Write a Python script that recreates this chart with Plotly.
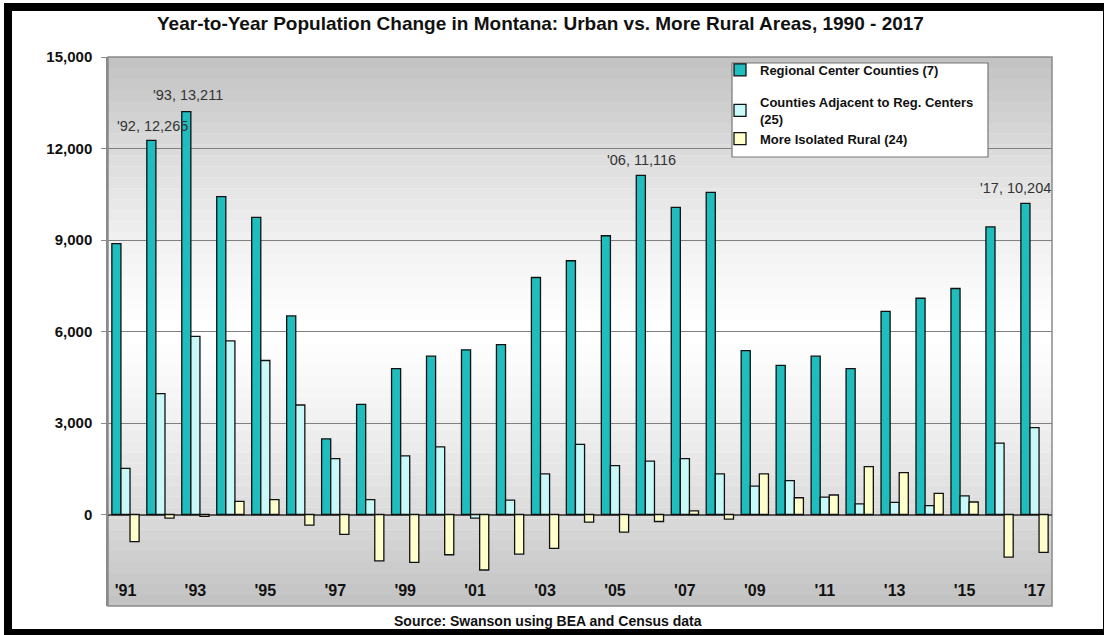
import plotly.graph_objects as go

years = list(range(1991, 2018))
regional = [8880, 12265, 13211, 10420, 9740, 6510, 2480, 3610, 4780, 5190, 5400, 5570, 7770, 8320,
            9140, 11116, 10070, 10560, 5370, 4890, 5190, 4780, 6660, 7090, 7410, 9430, 10204]
adjacent = [1510, 3960, 5840, 5690, 5050, 3590, 1830, 490, 1920, 2220, -120, 470, 1330, 2300,
            1600, 1750, 1830, 1330, 930, 1110, 570, 350, 400, 290, 610, 2340, 2850]
rural = [-890, -120, -60, 430, 490, -350, -650, -1520, -1570, -1320, -1820, -1300, -1110, -250,
         -580, -230, 120, -150, 1330, 550, 640, 1570, 1370, 690, 410, -1400, -1240]
series_names = ["Regional Center Counties (7)",
                "Counties Adjacent to Reg. Centers<br>(25)",
                "More Isolated Rural (24)"]
tick_years = list(range(1991, 2018, 2))
tick_text = ["'" + str(y)[2:] for y in tick_years]
y_ticks = [-3000, 0, 3000, 6000, 9000, 12000, 15000]
labelled_years = [1992, 1993, 2006, 2017]

FONT = "Liberation Sans, Arial, sans-serif"
W, H = 1104, 635
L, R, T, B = 108, 1052, 57, 606


def px_x(px):
    return (px - L) / (R - L)


def px_y(py):
    return (B - py) / (B - T)


fig = go.Figure()
colors = ["#1FBDBD", "#C8F8F8", "#FFFFCC"]
groups = ["a", "b", "b"]
for i, (name, vals) in enumerate(zip(series_names, [regional, adjacent, rural])):
    fig.add_trace(go.Bar(
        x=years, y=vals, name=name, legendgroup=groups[i],
        marker=dict(color=colors[i], line=dict(color="#111111", width=1.3)),
    ))

shapes = []
# gradient background
n = 50
for k in range(n):
    y0 = k / n
    y1 = (k + 1) / n
    mid = (y0 + y1) / 2
    d = abs(mid - 0.5) / 0.5
    g = int(round(255 - (d ** 1.3) * 62))
    shapes.append(dict(type="rect", xref="x domain", yref="y domain", x0=0, x1=1, y0=y0, y1=y1,
                       fillcolor=f"rgb({g},{g},{g})", line=dict(width=0), layer="below"))
# plot border
shapes.append(dict(type="rect", xref="x domain", yref="y domain", x0=0, x1=1, y0=0, y1=1,
                   line=dict(color="#8a8a8a", width=1.5), fillcolor="rgba(0,0,0,0)", layer="below"))
# legend box
shapes.append(dict(type="rect", xref="paper", yref="paper", x0=px_x(732), x1=px_x(988),
                   y0=px_y(157), y1=px_y(63), fillcolor="white",
                   line=dict(color="#777777", width=1.2), layer="above"))
# outer black frame
shapes.append(dict(type="rect", xref="paper", yref="paper", x0=px_x(8), x1=px_x(1107),
                   y0=px_y(633), y1=px_y(7), fillcolor="rgba(0,0,0,0)",
                   line=dict(color="black", width=8), layer="above"))

annotations = []
shifts = {1992: (-8, 14.5), 1993: (-7, 17), 2006: (-8, 15.5), 2017: (-19, 15.5)}
for yr in labelled_years:
    v = regional[years.index(yr)]
    xs, ys = shifts[yr]
    annotations.append(dict(x=yr, y=v, xref="x", yref="y", text=f"'{str(yr)[2:]}, {v:,}",
                            showarrow=False, yanchor="middle", xshift=xs, yshift=ys,
                            font=dict(family=FONT, size=14.5, color="#333333")))
annotations.append(dict(x=px_x(548), y=px_y(621), xref="paper", yref="paper",
                        text="Source: Swanson using BEA and Census data", showarrow=False,
                        yanchor="middle", xanchor="center",
                        font=dict(family=FONT, size=14, color="#111111", weight="bold")))
annotations.append(dict(x=px_x(540), y=px_y(23), xref="paper", yref="paper",
                        text="Year-to-Year Population Change in Montana: Urban vs. More Rural Areas, 1990 - 2017",
                        showarrow=False, yanchor="middle", xanchor="center",
                        font=dict(family=FONT, size=19, color="#111111", weight="bold")))

fig.update_layout(
    width=W, height=H,
    margin=dict(l=L, r=W - R, t=T, b=H - B, pad=0),
    paper_bgcolor="white", plot_bgcolor="white",
    barmode="group", bargap=0.22, bargroupgap=0.0,
    shapes=shapes, annotations=annotations,
    showlegend=True,
    legend=dict(x=px_x(720), y=px_y(55), xanchor="left", yanchor="top",
                bgcolor="rgba(0,0,0,0)", borderwidth=0, tracegroupgap=12,
                itemwidth=30,
                font=dict(family=FONT, size=13, color="#111111", weight="bold")),
    xaxis=dict(range=[1990.5, 2017.5], tickvals=tick_years, ticktext=tick_text,
               ticklabelposition="inside", ticks="", showgrid=False, zeroline=False,
               showline=False, ticklabelstandoff=4,
               tickfont=dict(family=FONT, size=16, color="#111111", weight="bold")),
    yaxis=dict(range=[-3000, 15000], tickvals=y_ticks, tickformat=",",
               showgrid=True, gridcolor="#808080", gridwidth=1,
               zeroline=True, zerolinecolor="#555555", zerolinewidth=1.5,
               showline=True, linecolor="#8a8a8a", linewidth=1.5,
               ticks="outside", ticklen=5, tickcolor="#8a8a8a", ticklabelstandoff=6,
               tickfont=dict(family=FONT, size=15, color="#111111", weight="bold")),
)

fig.write_html("out.html")
